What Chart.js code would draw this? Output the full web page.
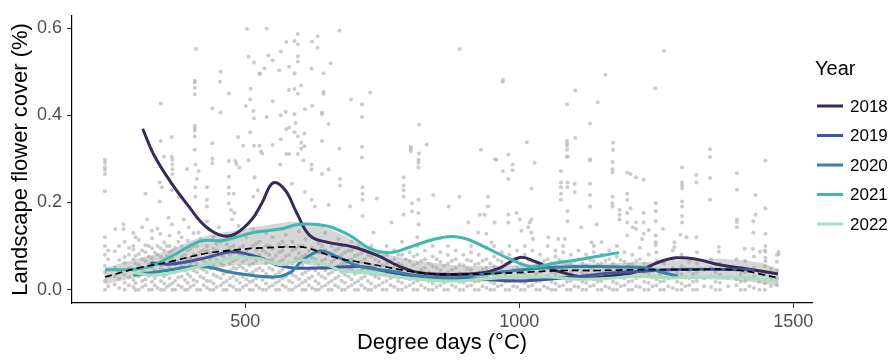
<!DOCTYPE html>
<html lang="en">
<head>
<meta charset="UTF-8" />
<title>Landscape flower cover</title>
<script src="https://cdn.jsdelivr.net/npm/chart.js@4"></script>
<style>
  html, body { margin: 0; padding: 0; background: #fff; }
  #wrap { width: 892px; height: 360px; }
</style>
</head>
<body>
<div id="wrap"><canvas id="flowerChart"></canvas></div>
<script>
// tick labels
const xTicks = [500, 1000, 1500];
const yTicks = [0, 0.2, 0.4, 0.6];

// legend
const years = ["2018", "2019", "2020", "2021", "2022"];
const yearColors = ["#3a2959", "#3e56a0", "#3683a7", "#40b8ad", "#a6e0bd"];

// scattered observations above the dense band, [degree days, cover]
const highDots = [
  [503,0.598],[410,0.552],[506,0.534],[516,0.521],[455,0.50],[526,0.495],[408,0.479],[408,0.475],[454,0.477],[408,0.463],
  [408,0.448],[470,0.450],[510,0.461],[509,0.436],[501,0.421],[515,0.410],[516,0.393],[346,0.427],[440,0.416],[455,0.406],
  [408,0.376],[408,0.370],[408,0.365],[408,0.352],[366,0.350],[346,0.341],[440,0.336],[487,0.35],[509,0.361],[496,0.33],
  [516,0.33],[526,0.33],[408,0.321],[352,0.305],[366,0.305],[440,0.30],[470,0.295],[482,0.295],[506,0.297],[529,0.317],
  [539,0.599],[672,0.594],[596,0.586],[632,0.581],[575,0.568],[590,0.570],[596,0.563],[622,0.569],[632,0.555],[565,0.546],
  [542,0.537],[550,0.526],[596,0.535],[596,0.523],[535,0.508],[527,0.495],[562,0.503],[580,0.511],[590,0.496],[621,0.507],
  [643,0.496],[656,0.519],[602,0.468],[580,0.458],[590,0.46],[596,0.449],[643,0.454],[643,0.449],[728,0.452],[550,0.432],
  [693,0.436],[713,0.425],[609,0.414],[622,0.422],[539,0.396],[565,0.40],[574,0.408],[590,0.402],[640,0.406],[640,0.402],
  [713,0.396],[652,0.38],[817,0.379],[575,0.368],[580,0.372],[590,0.361],[596,0.352],[608,0.358],[592,0.382],[565,0.345],
  [550,0.332],[531,0.312],[602,0.337],[602,0.323],[608,0.329],[596,0.311],[575,0.311],[580,0.311],[640,0.341],[672,0.323],
  [713,0.328],[713,0.303],[802,0.328],[802,0.323],[802,0.318],[817,0.312],[831,0.333],
  [891,0.552],[970,0.481],[970,0.477],[1157,0.493],[1102,0.457],[1087,0.425],[1143,0.43],[1129,0.381],[1014,0.338],[930,0.321],
  [980,0.31],[956,0.299],[1087,0.341],[1087,0.336],[1087,0.33],[1087,0.321],[1087,0.304],[1102,0.348],[1171,0.337],[1171,0.321],
  [1129,0.299],[1264,0.548],[1248,0.462],[1348,0.322],[1348,0.304],
  [244,0.298],[244,0.291],[244,0.281],[244,0.275],[244,0.265],[244,0.226],[367,0.298],[367,0.287],[367,0.276],[367,0.265],
  [394,0.276],[409,0.287],[415,0.272],[412,0.254],[440,0.29],[470,0.259],[484,0.288],[489,0.28],[517,0.258],[344,0.246],
  [348,0.235],[344,0.202],[318,0.22],[366,0.228],[379,0.213],[409,0.235],[409,0.213],[430,0.235],[430,0.206],[430,0.191],
  [470,0.235],[470,0.22],[470,0.198],[474,0.183],[480,0.176],[479,0.22],[515,0.213],[523,0.228],[278,0.15],[263,0.139],
  [278,0.139],[312,0.143],[321,0.161],[330,0.135],[345,0.128],[360,0.165],[366,0.15],[379,0.131],[388,0.161],[397,0.143],
  [415,0.131],[430,0.157],[433,0.139],[452,0.143],[464,0.124],[476,0.161],[488,0.146],
  [606,0.296],[621,0.287],[621,0.276],[640,0.265],[652,0.276],[564,0.287],[585,0.243],[609,0.224],[621,0.206],[627,0.191],
  [652,0.195],[673,0.254],[673,0.239],[691,0.191],[714,0.235],[714,0.22],[714,0.206],[714,0.169],[734,0.131],[740,0.209],
  [767,0.154],[789,0.258],[789,0.239],[789,0.228],[789,0.213],[789,0.172],[804,0.198],[804,0.18],[816,0.298],[816,0.291],
  [816,0.28],[816,0.206],[816,0.176],[816,0.15],[843,0.217],[871,0.191],
  [958,0.298],[1088,0.306],[1129,0.296],[1170,0.293],[1170,0.276],[1170,0.269],[1197,0.269],[1203,0.265],[970,0.272],[988,0.287],
  [988,0.274],[1028,0.291],[980,0.254],[1022,0.232],[1076,0.272],[1076,0.246],[1076,0.235],[1076,0.22],[1076,0.206],[1088,0.246],
  [1088,0.235],[1088,0.18],[1088,0.157],[1101,0.243],[1101,0.224],[1129,0.243],[1129,0.217],[1129,0.191],[1170,0.213],[1170,0.198],
  [1170,0.191],[1183,0.183],[1183,0.172],[1183,0.161],[1197,0.22],[1197,0.206],[1197,0.176],[1197,0.154],[1197,0.124],[1203,0.187],
  [1207,0.143],[891,0.213],[943,0.213],[928,0.172],[937,0.172],[955,0.154],[907,0.154],[925,0.131],[940,0.128],[980,0.172],
  [980,0.154],[995,0.176],[1001,0.161],[1004,0.135],[1016,0.143],[1022,0.161],[1019,0.154],[1022,0.131],[1025,0.116],[1053,0.12],
  [1071,0.116],[1083,0.116],[1113,0.143],[1141,0.15],[1132,0.109],[1150,0.109],[943,0.191],[949,0.109],
  [1449,0.296],[1297,0.28],[1323,0.263],[1323,0.246],[1348,0.256],[1213,0.258],[1227,0.252],[1297,0.246],[1297,0.239],[1297,0.232],
  [1297,0.202],[1297,0.191],[1297,0.169],[1297,0.154],[1348,0.206],[1397,0.267],[1397,0.229],[1397,0.161],[1397,0.155],[1397,0.143],
  [1431,0.217],[1431,0.172],[1427,0.157],[1427,0.131],[1449,0.187],[1449,0.128],[1449,0.1],[1449,0.087],[1449,0.073],[1449,0.065],
  [1473,0.087],[1473,0.081],[1249,0.198],[1249,0.18],[1249,0.157],[1249,0.124],[1249,0.109],[1249,0.102],[1227,0.176],[1227,0.154],
  [1236,0.137],[1227,0.128],[1213,0.154],[1213,0.139],[1224,0.116],[1262,0.139],[1283,0.109],[1283,0.098],[1294,0.126],[1305,0.12],
  [1323,0.12],[1364,0.098],[1364,0.087],[1411,0.094],[1426,0.094],[1439,0.087]
];

// dense low band, one column of cover values per sampling point in degree days
const lowColumns = [
  [244,[0.0,0.02,0.04,0.055,0.08,0.1,0.12]], [250,[0.008,0.03,0.047,0.07,0.09]],
  [262,[0.012,0.03,0.05,0.088]], [270,[0.004,0.025,0.042,0.068,0.1]],
  [280,[0.0,0.016,0.034,0.062,0.075,0.11]], [288,[0.01,0.028,0.05,0.08,0.096]],
  [296,[0.006,0.022,0.045,0.07,0.092,0.1,0.13]], [300,[0.0,0.015,0.038,0.06,0.078,0.12]],
  [306,[0.0,0.03,0.056,0.082,0.114]], [312,[0.006,0.02,0.045,0.07,0.09]],
  [318,[0.01,0.024,0.04,0.066,0.086,0.102]], [324,[0.0,0.032,0.058,0.076,0.1]],
  [330,[0.0,0.018,0.05,0.072,0.095,0.118]], [335,[0.01,0.026,0.044,0.062,0.085]],
  [340,[0.004,0.036,0.06,0.08,0.1,0.14]], [346,[0.0,0.02,0.05,0.075,0.095]],
  [352,[0.0,0.014,0.03,0.046,0.07,0.09,0.108]], [357,[0.006,0.036,0.058,0.078,0.1]],
  [362,[0.01,0.026,0.05,0.064,0.086,0.1,0.124]], [367,[0.0,0.015,0.04,0.07,0.09]],
  [372,[0.0,0.02,0.04,0.058,0.08,0.096]], [378,[0.01,0.028,0.048,0.066,0.085,0.11]],
  [384,[0.006,0.03,0.054,0.076,0.1,0.12]], [390,[0.0,0.022,0.044,0.062,0.08]],
  [395,[0.0,0.016,0.036,0.05,0.07,0.09,0.112]], [400,[0.006,0.03,0.058,0.074,0.094]],
  [406,[0.01,0.022,0.044,0.064,0.08,0.1,0.13]], [412,[0.0,0.018,0.04,0.06,0.078,0.1]],
  [418,[0.0,0.03,0.05,0.07,0.086,0.116]], [424,[0.01,0.026,0.046,0.066,0.09]],
  [430,[0.004,0.02,0.04,0.06,0.09,0.1]], [436,[0.0,0.02,0.048,0.07,0.084]],
  [442,[0.0,0.014,0.034,0.056,0.076,0.094,0.12]], [448,[0.006,0.03,0.05,0.068,0.09,0.105]],
  [455,[0.01,0.026,0.046,0.06,0.08,0.11]], [460,[0.0,0.016,0.036,0.056,0.076]],
  [466,[0.0,0.02,0.04,0.07,0.09,0.104]], [472,[0.01,0.026,0.044,0.06,0.08,0.096]],
  [478,[0.006,0.03,0.05,0.066,0.084,0.1,0.124]], [484,[0.0,0.022,0.048,0.07,0.09]],
  [490,[0.0,0.016,0.036,0.054,0.08,0.096]], [496,[0.006,0.03,0.05,0.064,0.082,0.1]],
  [502,[0.01,0.024,0.044,0.07,0.09,0.12]], [508,[0.0,0.018,0.036,0.056,0.08]],
  [514,[0.0,0.02,0.04,0.06,0.076,0.1,0.14]], [520,[0.01,0.026,0.046,0.066,0.09,0.106]],
  [526,[0.004,0.03,0.05,0.08,0.11]], [532,[0.0,0.022,0.044,0.07,0.09]],
  [538,[0.0,0.014,0.036,0.06,0.084,0.1,0.13]], [544,[0.006,0.03,0.05,0.066,0.08,0.1]],
  [550,[0.01,0.026,0.046,0.07,0.094,0.12]], [556,[0.0,0.016,0.034,0.056,0.078]],
  [562,[0.0,0.02,0.04,0.064,0.086,0.104]], [568,[0.01,0.026,0.046,0.068,0.09,0.11]],
  [574,[0.006,0.03,0.056,0.076,0.1,0.126]], [580,[0.0,0.02,0.04,0.06,0.08]],
  [586,[0.0,0.016,0.034,0.06,0.09,0.11]], [592,[0.006,0.03,0.05,0.072,0.094]],
  [598,[0.01,0.024,0.05,0.07,0.084,0.1,0.134]], [604,[0.0,0.016,0.036,0.056,0.076,0.1]],
  [610,[0.0,0.02,0.04,0.066,0.08,0.116]], [616,[0.01,0.026,0.046,0.064,0.088]],
  [622,[0.004,0.03,0.05,0.074,0.096,0.12]], [628,[0.0,0.02,0.044,0.07,0.09]],
  [634,[0.0,0.014,0.036,0.06,0.084,0.106]], [640,[0.006,0.03,0.05,0.066,0.084,0.1]],
  [646,[0.01,0.026,0.044,0.07,0.09,0.13]], [652,[0.0,0.016,0.036,0.056,0.08]],
  [658,[0.0,0.02,0.04,0.064,0.08,0.1]], [664,[0.01,0.026,0.046,0.07,0.09]],
  [670,[0.006,0.03,0.054,0.076,0.094,0.116]], [676,[0.0,0.02,0.04,0.06,0.08,0.1]],
  [682,[0.0,0.016,0.034,0.06,0.086]], [688,[0.006,0.03,0.05,0.066,0.09]],
  [694,[0.01,0.024,0.046,0.07,0.09,0.11]], [700,[0.0,0.016,0.036,0.056,0.078]],
  [706,[0.0,0.02,0.04,0.06,0.08,0.1]], [712,[0.01,0.026,0.044,0.064,0.084]],
  [718,[0.004,0.03,0.05,0.07,0.09]], [724,[0.0,0.02,0.04,0.06,0.08]],
  [730,[0.0,0.014,0.036,0.056,0.076,0.1]], [737,[0.006,0.03,0.05,0.07]],
  [744,[0.01,0.026,0.044,0.064,0.086]], [751,[0.0,0.016,0.036,0.056,0.076]],
  [758,[0.0,0.02,0.04,0.06,0.08,0.1]], [765,[0.01,0.026,0.046,0.066]],
  [772,[0.006,0.03,0.05,0.07,0.09]], [779,[0.0,0.02,0.04,0.06,0.08]],
  [786,[0.0,0.016,0.034,0.056,0.08,0.11]], [793,[0.006,0.03,0.05,0.07]],
  [800,[0.01,0.024,0.046,0.066,0.086]], [807,[0.0,0.016,0.036,0.056,0.076]],
  [814,[0.0,0.02,0.04,0.06,0.08,0.1,0.12]], [821,[0.01,0.026,0.046,0.066]],
  [828,[0.004,0.03,0.05,0.07,0.09]], [835,[0.0,0.02,0.04,0.06]],
  [842,[0.0,0.014,0.036,0.054,0.076,0.1]], [849,[0.006,0.03,0.05,0.07]],
  [856,[0.01,0.026,0.044,0.064,0.086]], [863,[0.0,0.016,0.036,0.056]],
  [870,[0.0,0.02,0.04,0.06,0.08,0.1]], [877,[0.01,0.024,0.046,0.066]],
  [884,[0.006,0.03,0.05,0.07,0.09]], [891,[0.0,0.018,0.038,0.058]],
  [898,[0.0,0.016,0.034,0.056,0.08]], [905,[0.008,0.028,0.048,0.068]],
  [912,[0.01,0.024,0.046,0.066,0.086,0.1]], [919,[0.0,0.018,0.036,0.058]],
  [926,[0.0,0.02,0.04,0.06,0.08]], [933,[0.008,0.026,0.046,0.066]],
  [940,[0.004,0.03,0.05,0.07,0.096]], [947,[0.0,0.018,0.04,0.06]],
  [954,[0.0,0.014,0.036,0.054,0.076,0.1]], [961,[0.008,0.028,0.048,0.068]],
  [968,[0.01,0.026,0.044,0.064,0.086]], [975,[0.0,0.018,0.036,0.058]],
  [982,[0.0,0.02,0.04,0.06,0.08,0.1]], [989,[0.008,0.026,0.046,0.066]],
  [996,[0.006,0.03,0.05,0.07,0.09]], [1003,[0.0,0.018,0.04,0.06]],
  [1010,[0.0,0.016,0.034,0.056,0.08,0.1]], [1017,[0.008,0.028,0.048,0.068]],
  [1024,[0.01,0.024,0.046,0.066,0.09]], [1031,[0.0,0.018,0.036,0.058]],
  [1038,[0.0,0.02,0.04,0.06,0.08]], [1045,[0.008,0.026,0.046,0.066]],
  [1052,[0.004,0.03,0.05,0.07,0.1]], [1059,[0.0,0.018,0.04,0.06]],
  [1066,[0.0,0.014,0.036,0.054,0.076,0.09]], [1073,[0.008,0.028,0.048,0.068]],
  [1080,[0.01,0.026,0.044,0.064,0.086,0.1]], [1087,[0.0,0.018,0.036,0.058]],
  [1094,[0.0,0.02,0.04,0.06,0.08]], [1101,[0.008,0.026,0.046,0.066]],
  [1108,[0.006,0.03,0.05,0.07,0.09]], [1115,[0.0,0.018,0.04,0.06]],
  [1122,[0.0,0.016,0.034,0.056,0.08]], [1129,[0.008,0.028,0.048,0.068]],
  [1136,[0.01,0.024,0.046,0.066,0.086,0.1]], [1143,[0.0,0.018,0.036,0.058]],
  [1150,[0.0,0.02,0.04,0.06,0.08]], [1157,[0.008,0.026,0.046,0.066]],
  [1164,[0.004,0.03,0.05,0.07,0.09]], [1171,[0.0,0.018,0.04,0.06]],
  [1178,[0.0,0.014,0.036,0.054,0.076,0.1]], [1185,[0.008,0.028,0.048,0.068]],
  [1192,[0.01,0.026,0.044,0.064,0.086]], [1199,[0.0,0.018,0.036,0.058]],
  [1206,[0.0,0.02,0.04,0.06,0.08]], [1213,[0.008,0.026,0.046,0.066]],
  [1220,[0.006,0.03,0.05,0.07,0.096]], [1228,[0.0,0.018,0.04,0.06]],
  [1236,[0.0,0.016,0.034,0.056,0.08]], [1243,[0.008,0.028,0.048]],
  [1250,[0.01,0.024,0.046,0.066,0.086]], [1257,[0.0,0.018,0.036]],
  [1264,[0.0,0.02,0.04,0.06]], [1272,[0.008,0.026,0.046]],
  [1280,[0.004,0.03,0.05,0.07,0.09]], [1288,[0.0,0.018,0.04]],
  [1296,[0.0,0.014,0.036,0.054,0.08]], [1303,[0.008,0.028,0.048]],
  [1310,[0.01,0.026,0.044,0.064]], [1317,[0.0,0.018,0.036]],
  [1324,[0.0,0.02,0.04,0.06,0.086]], [1337,[0.008,0.026,0.046]],
  [1350,[0.006,0.03,0.05,0.07]], [1358,[0.0,0.018,0.04]],
  [1366,[0.0,0.016,0.034,0.06]], [1381,[0.008,0.028,0.048]],
  [1396,[0.01,0.024,0.046,0.07]], [1404,[0.0,0.018,0.036]],
  [1412,[0.0,0.02,0.04,0.066]], [1420,[0.008,0.026,0.046]],
  [1428,[0.004,0.03,0.05,0.076]], [1438,[0.0,0.018,0.04]],
  [1448,[0.0,0.014,0.036,0.054,0.09]], [1459,[0.008,0.028,0.048]],
  [1470,[0.01,0.026,0.044,0.064,0.08]]
];

// smoothed curves per year, [degree days, cover]
const curve2018 = [[313,0.369],[333,0.31],[366,0.243],[397,0.191],[427,0.146],[458,0.124],[482,0.128],[512,0.161],[531,0.2],[551,0.245],
  [573,0.228],[594,0.176],[618,0.124],[649,0.109],[697,0.098],[740,0.079],[782,0.053],[819,0.039],[874,0.035],[934,0.039],[965,0.05],
  [1001,0.074],[1030,0.064],[1071,0.042],[1126,0.027],[1162,0.031],[1217,0.042],[1250,0.061],[1286,0.073],[1323,0.07],[1365,0.057],
  [1414,0.048],[1472,0.036]];
const curve2019 = [[327,0.061],[366,0.059],[427,0.073],[476,0.087],[512,0.079],[531,0.072],[558,0.057],[588,0.05],[649,0.05],[710,0.053],
  [770,0.039],[831,0.029],[874,0.027],[931,0.024],[992,0.02],[1053,0.024],[1113,0.031],[1174,0.039],[1217,0.042],[1274,0.046],
  [1335,0.047],[1428,0.046]];
const curve2020 = [[296,0.033],[345,0.042],[418,0.053],[478,0.039],[551,0.029],[582,0.039],[600,0.062],[618,0.079],[640,0.089],[667,0.076],
  [710,0.053],[770,0.042],[831,0.029],[874,0.027],[931,0.035],[992,0.044],[1053,0.051],[1101,0.053],[1144,0.053],[1186,0.052],
  [1232,0.05],[1260,0.04],[1290,0.031]];
const curve2021 = [[244,0.046],[284,0.046],[326,0.053],[369,0.079],[418,0.111],[460,0.113],[515,0.131],[564,0.139],[600,0.15],[649,0.146],
  [691,0.124],[728,0.094],[765,0.085],[801,0.098],[843,0.115],[877,0.122],[907,0.115],[943,0.094],[980,0.072],[1022,0.053],
  [1065,0.061],[1113,0.07],[1182,0.085]];
const curve2022 = [[296,0.039],[336,0.033],[379,0.042],[427,0.057],[476,0.072],[512,0.073],[531,0.07],[564,0.057],[606,0.068],[649,0.057],
  [679,0.042],[728,0.039],[770,0.031],[819,0.024],[874,0.02],[931,0.024],[992,0.029],[1053,0.029],[1113,0.024],[1174,0.027],
  [1217,0.031],[1274,0.027],[1335,0.029],[1396,0.029],[1472,0.02]];
const yearCurves = [curve2018, curve2019, curve2020, curve2021, curve2022];

// overall smooth (dashed) and its confidence band
const overallCurve = [[244,0.029],[306,0.05],[366,0.065],[427,0.083],[488,0.092],[531,0.096],[600,0.098],[618,0.094],[667,0.073],[710,0.063],
  [758,0.052],[801,0.042],[843,0.036],[870,0.035],[931,0.036],[992,0.039],[1083,0.044],[1144,0.044],[1217,0.046],[1305,0.046],
  [1396,0.045],[1473,0.027]];
const bandX = [244, 300, 360, 420, 480, 540, 600, 660, 720, 780, 840, 900, 960, 1020, 1080, 1140, 1200, 1260, 1320, 1380, 1440, 1473];
const bandUpper = [0.05, 0.07, 0.09, 0.12, 0.135, 0.148, 0.155, 0.135, 0.1, 0.075, 0.062, 0.055, 0.055, 0.058, 0.06, 0.06, 0.062, 0.065, 0.07, 0.07, 0.062, 0.048];
const bandLower = [0.012, 0.028, 0.042, 0.05, 0.055, 0.058, 0.06, 0.045, 0.035, 0.025, 0.018, 0.018, 0.02, 0.024, 0.027, 0.028, 0.03, 0.028, 0.024, 0.022, 0.015, 0.008];

const FONT = "'Liberation Sans', Arial, Helvetica, sans-serif";
const toPts = arr => arr.map(p => ({ x: p[0], y: p[1] }));

const dots = toPts(highDots);
lowColumns.forEach(col => col[1].forEach(v => dots.push({ x: col[0], y: v })));

const datasets = [];
datasets.push({
  type: "line", label: "overall", data: toPts(overallCurve), order: 0,
  borderColor: "#000", borderWidth: 1.7, borderDash: [7, 4],
  pointRadius: 0, tension: 0.4, fill: false
});
years.forEach((yr, i) => {
  datasets.push({
    type: "line", label: yr, data: toPts(yearCurves[i]), order: 5 - i,
    borderColor: yearColors[i], borderWidth: 3,
    pointRadius: 0, tension: 0.4, fill: false
  });
});
datasets.push({
  type: "line", label: "band upper", order: 6,
  data: bandX.map((x, i) => ({ x: x, y: bandUpper[i] })),
  borderWidth: 0, pointRadius: 0, tension: 0.4,
  backgroundColor: "rgba(153,153,153,0.4)", fill: "+1"
});
datasets.push({
  type: "line", label: "band lower", order: 6,
  data: bandX.map((x, i) => ({ x: x, y: bandLower[i] })),
  borderWidth: 0, pointRadius: 0, tension: 0.4, fill: false
});
datasets.push({
  type: "scatter", label: "obs", data: dots, order: 7,
  pointRadius: 2, pointBorderWidth: 0,
  pointBackgroundColor: "rgba(185,185,185,0.75)"
});

// legend drawn at the right like the original
const yearLegend = {
  id: "yearLegend",
  afterDraw(chart) {
    const ctx = chart.ctx;
    ctx.save();
    ctx.fillStyle = "#000";
    ctx.textBaseline = "middle";
    ctx.font = "20px " + FONT;
    ctx.fillText("Year", 815, 69);
    ctx.font = "17px " + FONT;
    years.forEach((yr, i) => {
      const y = 106 + i * 29.5;
      ctx.strokeStyle = yearColors[i];
      ctx.lineWidth = 3;
      ctx.beginPath();
      ctx.moveTo(817, y);
      ctx.lineTo(843, y);
      ctx.stroke();
      ctx.fillStyle = "#000";
      ctx.fillText(yr, 850, y + 1);
    });
    ctx.restore();
  }
};

new Chart(document.getElementById("flowerChart"), {
  type: "line",
  data: { datasets: datasets },
  options: {
    responsive: true,
    maintainAspectRatio: false,
    animation: false,
    events: [],
    layout: { padding: { left: 0, right: 80, top: 7, bottom: 0 } },
    plugins: { legend: { display: false }, tooltip: { enabled: false } },
    scales: {
      x: {
        type: "linear", min: 184, max: 1534,
        afterBuildTicks: s => { s.ticks = xTicks.map(v => ({ value: v })); },
        afterFit: s => { s.height = 57; },
        ticks: { font: { size: 18, family: FONT }, color: "#4d4d4d", padding: 3, callback: v => String(v) },
        grid: { drawOnChartArea: false, drawTicks: true, tickLength: 5, color: "#333" },
        border: { color: "#000", width: 1.2 },
        title: { display: true, text: "Degree days (°C)", font: { size: 22, family: FONT }, color: "#000", padding: { top: 0, bottom: 4 } }
      },
      y: {
        type: "linear", min: -0.0305, max: 0.628,
        afterBuildTicks: s => { s.ticks = yTicks.map(v => ({ value: v })); },
        afterFit: s => { s.width = 72; },
        ticks: { font: { size: 18, family: FONT }, color: "#4d4d4d", padding: 5, callback: v => v.toFixed(1) },
        grid: { drawOnChartArea: false, drawTicks: true, tickLength: 5, color: "#333" },
        border: { color: "#000", width: 1.2 },
        title: { display: true, text: "Landscape flower cover (%)", font: { size: 22, family: FONT }, color: "#000", padding: { top: 8, bottom: 0 } }
      }
    }
  },
  plugins: [yearLegend]
});
</script>
</body>
</html>
